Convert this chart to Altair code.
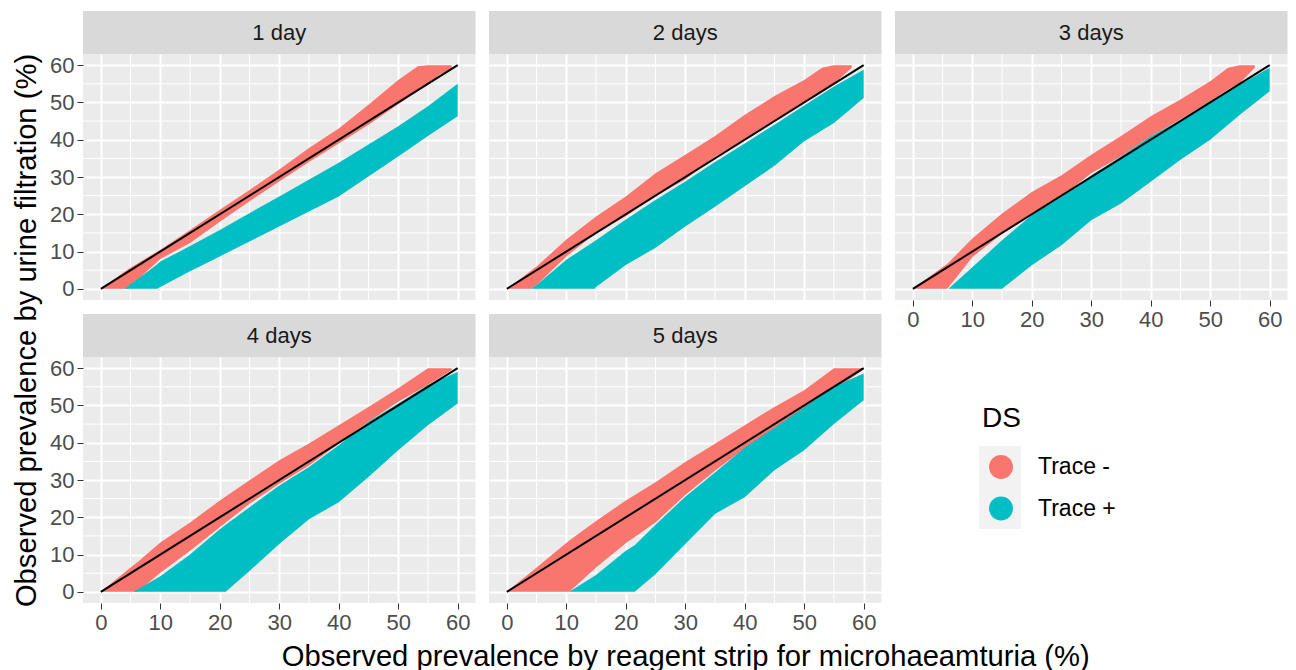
import altair as alt
import pandas as pd

FONT = "Liberation Sans"
RED = "#F8766D"
TEAL = "#00BFC4"
W, H = 392.5, 246

major = [0, 10, 20, 30, 40, 50, 60]
minor = [5, 15, 25, 35, 45, 55]
labels = ["1 day", "2 days", "3 days", "4 days", "5 days"]
series = ["Trace -", "Trace +"]
ref_x = [0, 60]
ref_y = [0, 60]

# Trace - envelopes
r1_x = [0, 4.5, 10, 15, 20, 25, 30, 35, 40, 45, 50, 53.3, 55, 57, 59]
r1_lo = [0, 0, 8, 12.3, 18, 23.5, 28.8, 34, 39, 44, 49.5, 53, 54.7, 57.5, 59]
r1_hi = [0, 5.2, 10.5, 15.8, 21.2, 26.5, 32, 37.8, 43, 49.4, 56, 59.7, 60, 60, 60]
r2_x = [0, 4, 5, 10, 15, 20, 25, 30, 35, 40, 45, 50, 53, 55, 58]
r2_lo = [0, 0, 1, 8.7, 15, 19.5, 25, 29.3, 35.4, 40, 45, 50, 53, 55, 59.3]
r2_hi = [0, 4.8, 6, 13.2, 19.4, 24.8, 31, 36, 41, 46.7, 51.7, 56, 59.3, 60, 60]
r3_x = [0, 5.8, 10, 15, 20, 25, 30, 35, 40, 45, 50, 53, 55, 57.5]
r3_lo = [0, 0, 8.5, 14.8, 19.8, 24.7, 31, 35.5, 40.9, 45.4, 50.3, 53.5, 55.2, 59.3]
r3_hi = [0, 6.7, 13.5, 20.2, 26, 30.5, 36, 41, 46.3, 50.8, 55.7, 59.3, 60, 60]
r4_x = [0, 5, 6.2, 10, 15, 20, 25, 30, 35, 40, 45, 50, 55, 59]
r4_lo = [0, 0, 0, 5.1, 11, 17.3, 23.6, 29, 33.9, 39.7, 45.6, 51, 55.5, 59.5]
r4_hi = [0, 6.5, 8, 13.2, 18.6, 24.5, 29.9, 35.3, 39.8, 44.7, 49.6, 54.6, 60, 60]
r5_x = [0, 5, 10.5, 15, 20, 25, 30, 35, 40, 45, 50, 55, 60]
r5_lo = [0, 0, 0, 6.5, 13, 18.6, 26, 32.5, 38.5, 43.3, 48.8, 54, 59.7]
r5_hi = [0, 6.5, 13.8, 19, 24.5, 29.4, 34.8, 39.7, 44.7, 49.6, 54.1, 60, 60]

# Trace + envelopes
t1_x = [4, 9.5, 10, 15, 20, 30, 40, 50, 55, 60]
t1_lo = [0, 0, 0.5, 4.7, 8.7, 16.7, 24.8, 35.5, 41, 46.3]
t1_hi = [0, 6.6, 7.3, 11.5, 15.8, 24.8, 33.8, 43.6, 49, 55]
t2_x = [4, 5, 10, 14.8, 15, 20, 25, 30, 35, 40, 45, 50, 55, 60]
t2_lo = [0, 0, 0, 0, 0.5, 6.4, 11, 16.7, 22, 27.5, 33, 39.6, 44.5, 51.2]
t2_hi = [0, 1, 7.8, 12.8, 13, 18.6, 23.8, 28.8, 34, 39, 44, 49.2, 54.3, 58.8]
t3_x = [6, 10, 15, 20, 25, 30, 35, 40, 45, 50, 55, 60]
t3_lo = [0, 0, 0, 6.3, 11.7, 18.4, 22.9, 28.7, 34.6, 40, 46.7, 53]
t3_hi = [0, 5.8, 13, 19.8, 24.7, 30.5, 35.5, 40.9, 45.3, 50.3, 54.8, 59.3]
t4_x = [5.5, 10, 15, 20, 21, 25, 30, 35, 40, 45, 50, 55, 60]
t4_lo = [0, 0, 0, 0, 0, 5.6, 12.8, 19.5, 24, 30.8, 38, 44.7, 50.5]
t4_hi = [0, 4.2, 10, 16.8, 18, 22.7, 28.5, 33.5, 39.3, 45.6, 50.5, 55.5, 59]
t5_x = [10.5, 15, 20, 21.5, 25, 30, 35, 40, 45, 50, 55, 60]
t5_lo = [0, 0, 0, 0, 4.7, 12.8, 20.9, 25.4, 32.6, 38, 45, 51.4]
t5_hi = [0, 4.5, 11, 12.5, 18, 25.5, 32, 38.7, 44, 49.5, 55, 58.6]

reds = [(r1_x, r1_lo, r1_hi), (r2_x, r2_lo, r2_hi), (r3_x, r3_lo, r3_hi),
        (r4_x, r4_lo, r4_hi), (r5_x, r5_lo, r5_hi)]
teals = [(t1_x, t1_lo, t1_hi), (t2_x, t2_lo, t2_hi), (t3_x, t3_lo, t3_hi),
         (t4_x, t4_lo, t4_hi), (t5_x, t5_lo, t5_hi)]

xscale = alt.Scale(domain=[-3, 63], nice=False, zero=False)
yscale = alt.Scale(domain=[-3, 63], nice=False, zero=False)
color_scale = alt.Scale(domain=series, range=[RED, TEAL])


def axis(show, title=None, **kw):
    base = dict(values=major, grid=True, gridColor="white", gridWidth=2,
                domain=False, title=title)
    if show:
        base.update(ticks=True, tickColor="#333333", tickSize=6, tickWidth=1,
                    labels=True, labelColor="#4D4D4D", labelFontSize=22,
                    labelPadding=3, labelFont=FONT, labelFlush=False)
    else:
        base.update(ticks=False, labels=False)
    base.update(kw)
    return alt.Axis(**base)


def panel(i, xaxis, yaxis, extra=None):
    rows = []
    for name, (xs, los, his) in ((series[0], reds[i]), (series[1], teals[i])):
        for a, b, c in zip(xs, los, his):
            rows.append({"x": a, "lo": b, "hi": c, "DS": name})
    bands = pd.DataFrame(rows)
    frame = alt.Chart(pd.DataFrame({"x": minor, "y": minor}))
    v_minor = frame.mark_rule(color="white", strokeWidth=1).encode(
        x=alt.X("x:Q", scale=xscale, axis=xaxis), y=alt.value(0), y2=alt.value(H))
    h_minor = frame.mark_rule(color="white", strokeWidth=1).encode(
        y=alt.Y("y:Q", scale=yscale, axis=yaxis), x=alt.value(0), x2=alt.value(W))
    area = []
    for name in series:
        area.append(alt.Chart(bands[bands.DS == name]).mark_area(opacity=1, interpolate="linear").encode(
            x=alt.X("x:Q", scale=xscale),
            y=alt.Y("lo:Q", scale=yscale),
            y2="hi:Q",
            color=alt.Color("DS:N", scale=color_scale, legend=alt.Legend(
                title="DS", orient="none", legendX=LEGEND_X, legendY=LEGEND_Y,
                symbolType="circle", symbolSize=570, symbolStrokeWidth=0,
                titleFontSize=28, titleFont=FONT, titleFontWeight="normal", titleColor="black",
                titlePadding=22, labelFontSize=23, labelFont=FONT, labelColor="black",
                rowPadding=17.5, labelOffset=25, symbolOffset=7)),
        ))
    ref = alt.Chart(pd.DataFrame({"x": ref_x, "y": ref_y})).mark_line(color="black", strokeWidth=2).encode(
        x=alt.X("x:Q", scale=xscale), y=alt.Y("y:Q", scale=yscale))
    strip_data = alt.Chart(pd.DataFrame({"label": [labels[i]]}))
    strip = strip_data.mark_rect(color="#D9D9D9").encode(
        x=alt.value(0), x2=alt.value(W), y=alt.value(-43), y2=alt.value(0))
    strip_text = strip_data.mark_text(font=FONT, fontSize=22, color="#1A1A1A", align="center", baseline="middle").encode(
        x=alt.value(W / 2), y=alt.value(-21), text="label:N")
    layers = [v_minor, h_minor, *area, ref, strip, strip_text]
    if extra is not None:
        layers.insert(0, extra)
    return alt.layer(*layers).properties(width=W, height=H)


LEGEND_X = 899
LEGEND_Y = 351
XT = "Observed prevalence by reagent strip for microhaeamturia (%)"
YT = "Observed prevalence by urine filtration (%)"
title_kw = dict(titleFont=FONT, titleFontSize=29.2, titleColor="black", titleFontWeight="normal")

key_bg = alt.Chart(pd.DataFrame({"k": ["keys"]})).mark_rect(color="#F2F2F2").encode(
    x=alt.value(490), x2=alt.value(532), y=alt.value(89), y2=alt.value(172))

p1 = panel(0, axis(False), axis(True))
p2 = panel(1, axis(False), axis(False))
p3 = panel(2, axis(True), axis(False))
p4 = panel(3, axis(True), axis(True, title=YT, titleY=-27, titleX=-42, **title_kw))
p5 = panel(4, axis(True, title=XT, titleY=39, **title_kw), axis(False), extra=key_bg)

chart = (
    alt.concat(p1, p2, p3, p4, p5, columns=3, spacing={"row": 57, "column": 13}, bounds="flush")
    .resolve_scale(color="shared", x="independent", y="independent")
    .configure_view(fill="#EBEBEB", stroke=None)
    .properties(background="white", padding={"left": 3, "top": 3, "right": 0, "bottom": 0})
)
chart.save("out.html", embed_options={"renderer": "svg", "actions": False})
